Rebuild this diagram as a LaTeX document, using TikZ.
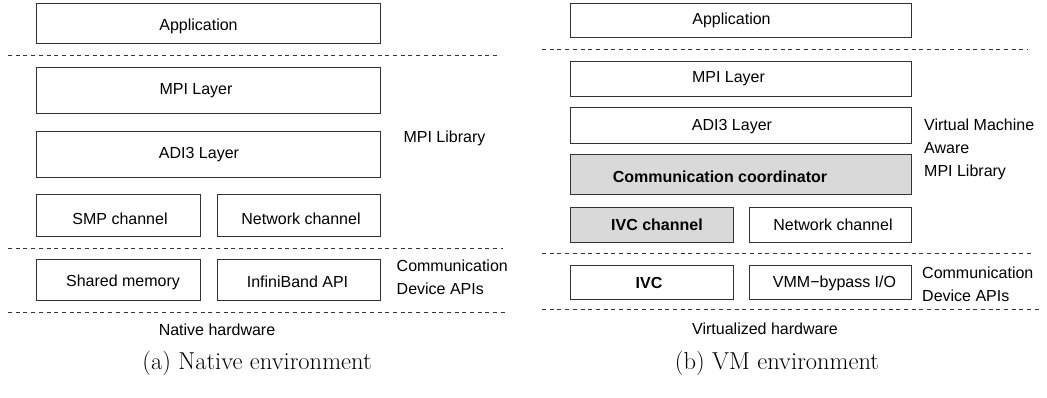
\documentclass[tikz,border=0pt]{standalone}
\usepackage{fontspec}
\setsansfont{Liberation Sans}
\begin{document}
\begin{tikzpicture}[x=1pt,y=-1pt,
  box/.style={draw=black!80, line width=0.9pt, inner sep=0pt, fill=white},
  gbox/.style={box, fill=gray!30},
  txt/.style={font=\sffamily\fontsize{16}{23}\selectfont, inner sep=0pt},
  btxt/.style={font=\sffamily\bfseries\fontsize{16}{23}\selectfont, inner sep=0pt},
  side/.style={font=\sffamily\fontsize{16}{23}\selectfont, inner sep=0pt, align=left, anchor=west},
  captxt/.style={font=\rmfamily\fontsize{24.5}{28}\selectfont, inner sep=0pt},
  sep/.style={draw=black!80, line width=0.8pt, dash pattern=on 4pt off 3.7pt}]
\useasboundingbox (0,0) rectangle (1047,398);

% ---------- (a) Native environment ----------
\node[box, minimum width=344pt, minimum height=40pt] (app1) at (208,23) {};
\node[txt] (app1t) at (198.5,26.5) {Application};
\draw[sep] (8,55) -- (497,55);
\node[box, minimum width=344pt, minimum height=46pt] (mpi1) at (208,90) {};
\node[txt] (mpi1t) at (196,91) {MPI Layer};
\node[box, minimum width=344pt, minimum height=46pt] (adi1) at (208,154) {};
\node[txt] (adi1t) at (199,155) {ADI3 Layer};
\node[txt] (lib1) at (444.5,138) {MPI Library};
\node[box, minimum width=164pt, minimum height=42pt] (smp1) at (118,215) {};
\node[txt] (smp1t) at (120,219) {SMP channel};
\node[box, minimum width=163pt, minimum height=42pt] (net1) at (298.5,215) {};
\node[txt] (net1t) at (301,219) {Network channel};
\draw[sep] (8,248) -- (503,248);
\node[box, minimum width=164pt, minimum height=41pt] (shm1) at (118,279.5) {};
\node[txt] (shm1t) at (123,282) {Shared memory};
\node[box, minimum width=163pt, minimum height=41pt] (ib1) at (298.5,279.5) {};
\node[txt] (ib1t) at (297.5,282) {InfiniBand API};
\node[side] (dev1) at (396.5,277.5) {Communication\\Device APIs};
\draw[sep] (8,312) -- (508,312);
\node[txt] (hw1) at (217,330) {Native hardware};
\node[captxt] (cap1) at (257,363) {(a) Native environment};

% ---------- (b) VM environment ----------
\node[box, minimum width=341pt, minimum height=34pt] (app2) at (740.5,20) {};
\node[txt] (app2t) at (731.5,20) {Application};
\draw[sep] (542,49) -- (1028,49);
\node[box, minimum width=341pt, minimum height=35pt] (mpi2) at (740.5,78.5) {};
\node[txt] (mpi2t) at (728.5,79) {MPI Layer};
\node[box, minimum width=341pt, minimum height=36pt] (adi2) at (740.5,125) {};
\node[txt] (adi2t) at (732,127) {ADI3 Layer};
\node[gbox, minimum width=341pt, minimum height=40pt] (coord) at (740.5,174) {};
\node[btxt] (coordt) at (720,177) {Communication coordinator};
\node[side] (lib2) at (924,149) {Virtual Machine\\Aware\\MPI Library};
\node[gbox, minimum width=163pt, minimum height=35pt] (ivcch) at (651.5,224.5) {};
\node[btxt] (ivccht) at (657,225) {IVC channel};
\node[box, minimum width=162pt, minimum height=35pt] (net2) at (830,224.5) {};
\node[txt] (net2t) at (833,225) {Network channel};
\draw[sep] (542,253) -- (1033,253);
\node[box, minimum width=163pt, minimum height=34pt] (ivc) at (651.5,282) {};
\node[btxt] (ivct) at (649,283) {IVC};
\node[box, minimum width=162pt, minimum height=34pt] (vmm) at (830,282) {};
\node[txt] (vmmt) at (834.5,283) {VMM−bypass I/O};
\node[side] (dev2) at (922,284.5) {Communication\\Device APIs};
\draw[sep] (542,309) -- (1040,309);
\node[txt] (hw2) at (765,329) {Virtualized hardware};
\node[captxt] (cap2) at (777,363) {(b) VM environment};
\end{tikzpicture}
\end{document}
